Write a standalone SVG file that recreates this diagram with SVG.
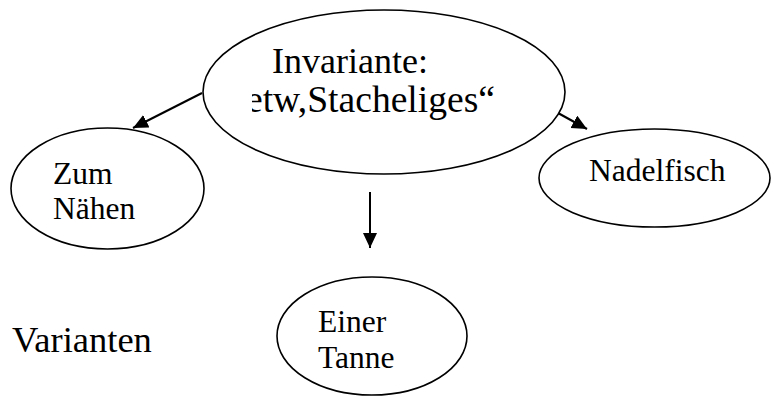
<svg xmlns="http://www.w3.org/2000/svg" width="771" height="396" viewBox="0 0 771 396">
<style>
.node ellipse { fill: #ffffff; stroke: #000000; stroke-width: 1.6; }
.big { font-family: "Liberation Serif", "Times New Roman", serif; font-size: 36px; fill: #000; }
.small { font-family: "Liberation Serif", "Times New Roman", serif; font-size: 31.5px; fill: #000; }
.conn line { stroke: #000; stroke-width: 2; }
</style>
<defs>
<marker id="arrow" markerUnits="userSpaceOnUse" markerWidth="18" markerHeight="16" refX="15" refY="7" orient="auto">
<path d="M0,0 L15,7 L0,14 Z" fill="#000"/>
</marker>
<clipPath id="clipMain">
<rect x="252" y="0" width="400" height="200"/>
</clipPath>
</defs>
<rect width="771" height="396" fill="#ffffff"/>
<g id="connectors" class="conn">
<line x1="202" y1="93" x2="133" y2="128" marker-end="url(#arrow)"/>
<line x1="558" y1="113" x2="587" y2="129" marker-end="url(#arrow)"/>
<line x1="370" y1="192" x2="370" y2="248" marker-end="url(#arrow)"/>
</g>
<g id="node-invariante" class="node">
<ellipse cx="384" cy="92" rx="181" ry="82"/>
<text class="big" x="272" y="73">Invariante:</text>
<text class="big" x="246" y="112" style="font-size:38px" textLength="249" lengthAdjust="spacingAndGlyphs" clip-path="url(#clipMain)">etw,Stacheliges“</text>
</g>
<g id="node-zum" class="node">
<ellipse cx="107.5" cy="188.5" rx="96.5" ry="60.5"/>
<text class="small" x="53" y="184">Zum</text>
<text class="small" x="53" y="219">Nähen</text>
</g>
<g id="node-nadelfisch" class="node">
<ellipse cx="654.5" cy="178" rx="115.5" ry="49"/>
<text class="small" x="589" y="181">Nadelfisch</text>
</g>
<g id="node-tanne" class="node">
<ellipse cx="372" cy="336" rx="95" ry="59"/>
<text class="small" x="318" y="332">Einer</text>
<text class="small" x="318" y="368">Tanne</text>
</g>
<g id="label-varianten">
<text class="big" x="12" y="352" style="font-size:36.5px">Varianten</text>
</g>
</svg>
